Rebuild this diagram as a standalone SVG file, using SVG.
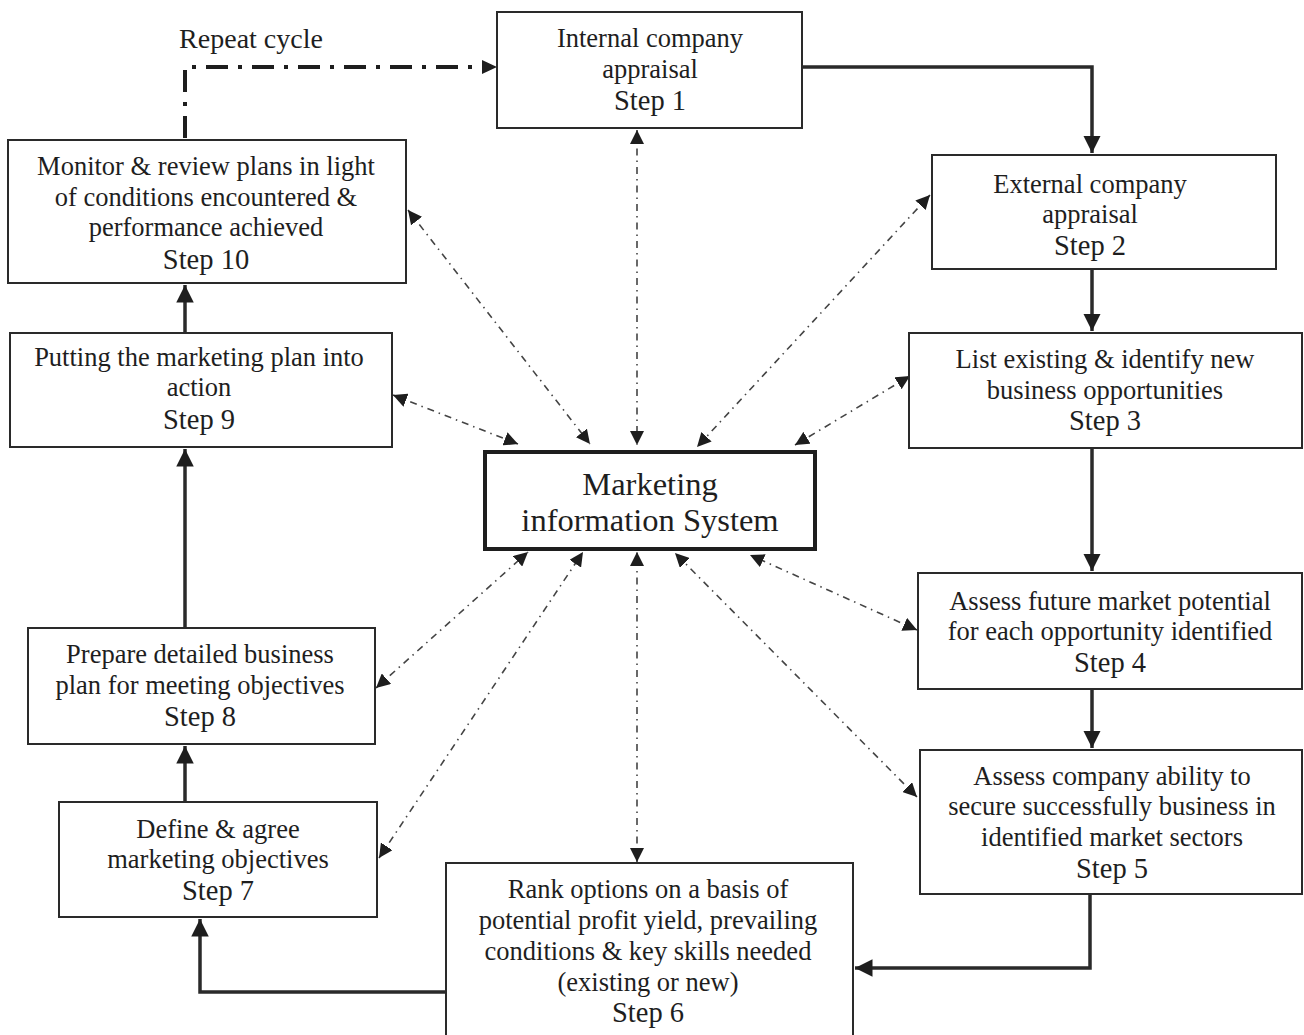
<svg xmlns="http://www.w3.org/2000/svg" width="1304" height="1035" viewBox="0 0 1304 1035">
<style>
.box{fill:#fff;stroke:#2a2a2a;stroke-width:2}
.mis{fill:#fff;stroke:#1e1e1e;stroke-width:4}
text{font-family:"Liberation Serif","Times New Roman",serif;fill:#1e1e1e;text-anchor:middle}
.t{font-size:26.5px}
.s{font-size:28.5px}
.m{font-size:32.5px}
.r{font-size:28px}
.solid{fill:none;stroke:#2a2a2a;stroke-width:3.5}
.dot{fill:none;stroke:#444;stroke-width:1.6;stroke-dasharray:7 5 1.5 5}
.rep{fill:none;stroke:#1e1e1e;stroke-width:4;stroke-dasharray:22 10 4 10}
</style>
<defs>
<marker id="a" viewBox="0 0 10 10" refX="10" refY="5" markerWidth="14" markerHeight="14" markerUnits="userSpaceOnUse" orient="auto-start-reverse"><path d="M0,0 L10,5 L0,10 z" fill="#1e1e1e"/></marker>
<marker id="b" viewBox="0 0 10 10" refX="10" refY="5" markerWidth="5" markerHeight="5" orient="auto"><path d="M0,0 L10,5 L0,10 z" fill="#1e1e1e"/></marker>
</defs>
<rect width="1304" height="1035" fill="#fff"/>
<g id="connectors">
<path class="solid" d="M802,67 H1092 V153" marker-end="url(#b)"/>
<path class="solid" d="M1092,269 V331" marker-end="url(#b)"/>
<path class="solid" d="M1092,448 V571" marker-end="url(#b)"/>
<path class="solid" d="M1092,689 V748" marker-end="url(#b)"/>
<path class="solid" d="M1090,894 V968 H855" marker-end="url(#b)"/>
<path class="solid" d="M446,992 H200 V919" marker-end="url(#b)"/>
<path class="solid" d="M185,802 V746" marker-end="url(#b)"/>
<path class="solid" d="M185,628 V449" marker-end="url(#b)"/>
<path class="solid" d="M185,333 V285" marker-end="url(#b)"/>
<path class="rep" d="M185,138 V67 H482"/>
<path d="M482,60 L497,67 L482,74 z" fill="#1e1e1e"/>
<path class="dot" d="M637,130 V445" marker-start="url(#a)" marker-end="url(#a)"/>
<path class="dot" d="M930,195 L697,447" marker-start="url(#a)" marker-end="url(#a)"/>
<path class="dot" d="M910,376 L795,445" marker-start="url(#a)" marker-end="url(#a)"/>
<path class="dot" d="M917,630 L750,555" marker-start="url(#a)" marker-end="url(#a)"/>
<path class="dot" d="M917,797 L675,553" marker-start="url(#a)" marker-end="url(#a)"/>
<path class="dot" d="M637,862 V552" marker-start="url(#a)" marker-end="url(#a)"/>
<path class="dot" d="M379,858 L583,552" marker-start="url(#a)" marker-end="url(#a)"/>
<path class="dot" d="M376,688 L528,552" marker-start="url(#a)" marker-end="url(#a)"/>
<path class="dot" d="M393,395 L518,444" marker-start="url(#a)" marker-end="url(#a)"/>
<path class="dot" d="M408,210 L590,444" marker-start="url(#a)" marker-end="url(#a)"/>
</g>
<text class="r" x="251" y="48">Repeat cycle</text>
<g id="step1"><rect class="box" x="497" y="12" width="305" height="116"/>
<text class="t" x="650" y="47">Internal company</text><text class="t" x="650" y="78">appraisal</text><text class="s" x="650" y="110">Step 1</text></g>
<g id="step2"><rect class="box" x="932" y="155" width="344" height="114"/>
<text class="t" x="1090" y="193">External company</text><text class="t" x="1090" y="223">appraisal</text><text class="s" x="1090" y="255">Step 2</text></g>
<g id="step3"><rect class="box" x="909" y="333" width="393" height="115"/>
<text class="t" x="1105" y="368">List existing &amp; identify new</text><text class="t" x="1105" y="399">business opportunities</text><text class="s" x="1105" y="430">Step 3</text></g>
<g id="step4"><rect class="box" x="918" y="573" width="384" height="116"/>
<text class="t" x="1110" y="610">Assess future market potential</text><text class="t" x="1110" y="640">for each opportunity identified</text><text class="s" x="1110" y="672">Step 4</text></g>
<g id="step5"><rect class="box" x="920" y="750" width="382" height="144"/>
<text class="t" x="1112" y="785">Assess company ability to</text><text class="t" x="1112" y="815">secure successfully business in</text><text class="t" x="1112" y="846">identified market sectors</text><text class="s" x="1112" y="878">Step 5</text></g>
<g id="step6"><rect class="box" x="446" y="863" width="407" height="180"/>
<text class="t" x="648" y="898">Rank options on a basis of</text><text class="t" x="648" y="929">potential profit yield, prevailing</text><text class="t" x="648" y="960">conditions &amp; key skills needed</text><text class="t" x="648" y="991">(existing or new)</text><text class="s" x="648" y="1022">Step 6</text></g>
<g id="step7"><rect class="box" x="59" y="802" width="318" height="115"/>
<text class="t" x="218" y="838">Define &amp; agree</text><text class="t" x="218" y="868">marketing objectives</text><text class="s" x="218" y="900">Step 7</text></g>
<g id="step8"><rect class="box" x="28" y="628" width="347" height="116"/>
<text class="t" x="200" y="663">Prepare detailed business</text><text class="t" x="200" y="694">plan for meeting objectives</text><text class="s" x="200" y="726">Step 8</text></g>
<g id="step9"><rect class="box" x="10" y="333" width="382" height="114"/>
<text class="t" x="199" y="366">Putting the marketing plan into</text><text class="t" x="199" y="396">action</text><text class="s" x="199" y="429">Step 9</text></g>
<g id="step10"><rect class="box" x="8" y="140" width="398" height="143"/>
<text class="t" x="206" y="175">Monitor &amp; review plans in light</text><text class="t" x="206" y="206">of conditions encountered &amp;</text><text class="t" x="206" y="236">performance achieved</text><text class="s" x="206" y="269">Step 10</text></g>
<g id="mis"><rect class="mis" x="485" y="452" width="330" height="97"/>
<text class="m" x="650" y="495">Marketing</text><text class="m" x="650" y="531">information System</text></g>
</svg>
